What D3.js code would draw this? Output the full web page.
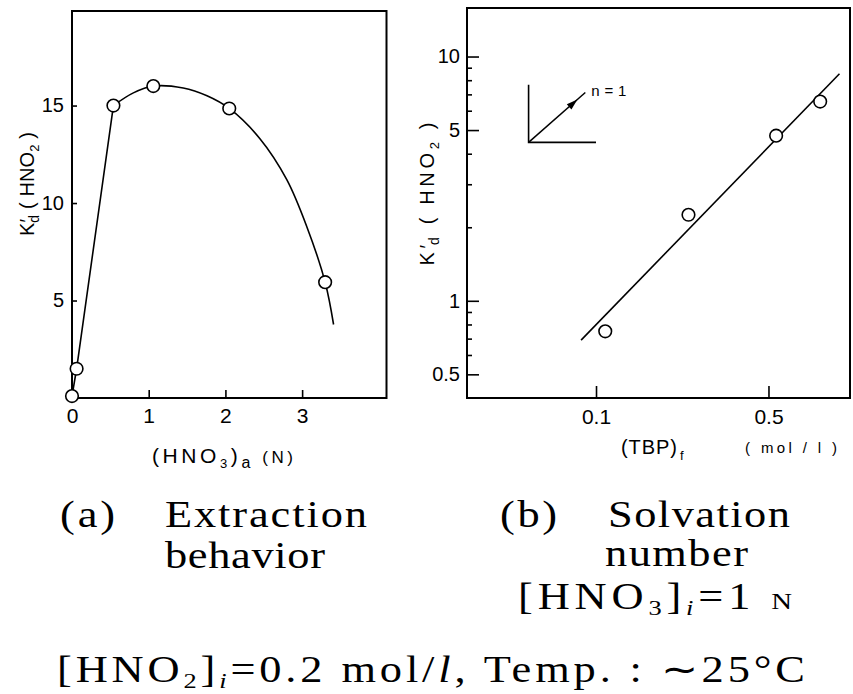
<!DOCTYPE html>
<html>
<head>
<meta charset="utf-8">
<script src="https://cdn.jsdelivr.net/npm/d3@7"></script>
<style>
  html, body { margin: 0; padding: 0; background: #fff; }
  svg { display: block; }
</style>
</head>
<body>
<svg id="chart" width="853" height="694"></svg>
<script>
// ---------- data: panel (a) extraction behaviour ----------
const hno3A = [0, 0.06, 0.54, 1.06, 2.05, 3.30];
const kdA = [0.1, 1.5, 15.0, 16.0, 14.85, 5.94];
// straight segments at low acidity
const segAx = [0, 0.06, 0.54];
const segAy = [0.1, 1.5, 15.0];
// smooth drawn curve
const curveAx = [0.54, 0.80, 1.06, 1.45, 1.76, 2.05, 2.45, 2.80, 3.06, 3.30, 3.41];
const curveAy = [15.0, 15.65, 16.0, 15.9, 15.5, 14.85, 13.3, 11.2, 8.8, 5.94, 3.77];
const xTicksA = [0, 1, 2, 3];
const xTickLabelsA = ["0", "1", "2", "3"];
const yTicksA = [5, 10, 15];
const yTickLabelsA = ["5", "10", "15"];

// ---------- data: panel (b) solvation number ----------
const tbpB = [0.109, 0.237, 0.537, 0.81];
const kdB = [0.75, 2.25, 4.74, 6.54];
const fitBx = [0.087, 0.97];
const fitBy = [0.69, 8.5];
const xTicksB = [0.1, 0.5];
const xTickLabelsB = ["0.1", "0.5"];
const yTicksB = [0.5, 1, 5, 10];
const yTickLabelsB = ["0.5", "1", "5", "10"];
const yMinorB = [0.6, 0.7, 0.8, 0.9, 2, 3, 4, 6, 7, 8, 9];
// slope-1 key (data coordinates)
const keyCorner = [0.0533, 4.45];
const keyTop = 7.66;
const keyRight = 0.1;
const keyArrow = [0.0905, 7.12];
const keyLabel = "n = 1";

const SANS = "'Liberation Sans', Arial, sans-serif";
const SERIF = "'Liberation Serif', 'Times New Roman', serif";

const svg = d3.select("#chart");

// ---------- scales ----------
const xA = d3.scaleLinear().domain([0, 4.1]).range([72, 386.5]);
const yA = d3.scaleLinear().domain([0, 19.85]).range([398, 11]);
const xB = d3.scaleLog().domain([0.03, 1.07]).range([467, 850]);
const yB = d3.scaleLog().domain([0.4, 15.8]).range([398, 8]);

function styleAxis(g, size) {
  g.select(".domain").remove();
  g.selectAll("line").attr("stroke", "#000").attr("stroke-width", 1.6);
  g.selectAll("text").attr("font-family", SANS).attr("font-size", size).attr("fill", "#000");
}

// ---------- panel (a) ----------
const gA = svg.append("g");
gA.append("g").attr("transform", `translate(0,${yA(0)})`)
  .call(d3.axisBottom(xA).tickValues(xTicksA).tickFormat((d, i) => xTickLabelsA[i]).tickSize(-8).tickPadding(10))
  .call(g => styleAxis(g, 21));
gA.append("g").attr("transform", `translate(${xA(0)},0)`)
  .call(d3.axisLeft(yA).tickValues(yTicksA).tickFormat((d, i) => yTickLabelsA[i]).tickSize(-5).tickPadding(8))
  .call(g => styleAxis(g, 20));
gA.append("rect")
  .attr("x", xA.range()[0]).attr("y", yA.range()[1])
  .attr("width", xA.range()[1] - xA.range()[0]).attr("height", yA.range()[0] - yA.range()[1])
  .attr("fill", "none").attr("stroke", "#000").attr("stroke-width", 2);

gA.append("path")
  .attr("d", d3.line().x((d, i) => xA(segAx[i])).y(d => yA(d))(segAy))
  .attr("fill", "none").attr("stroke", "#000").attr("stroke-width", 1.6);
gA.append("path")
  .attr("d", d3.line().curve(d3.curveCatmullRom).x((d, i) => xA(curveAx[i])).y(d => yA(d))(curveAy))
  .attr("fill", "none").attr("stroke", "#000").attr("stroke-width", 1.6);
gA.selectAll("circle.pt").data(kdA).join("circle")
  .attr("cx", (d, i) => xA(hno3A[i])).attr("cy", d => yA(d)).attr("r", 6.3)
  .attr("fill", "#fff").attr("stroke", "#000").attr("stroke-width", 1.6);

// axis titles (a)
const tA = gA.append("text").attr("font-family", SANS).attr("font-size", 21)
  .attr("x", 152).attr("y", 463).attr("textLength", 141).attr("lengthAdjust", "spacing");
tA.append("tspan").text("(HNO");
tA.append("tspan").attr("font-size", 13).attr("dy", 5).text("3");
tA.append("tspan").attr("dy", -5).text(")");
tA.append("tspan").attr("font-size", 16).attr("dy", 5).text("a");
tA.append("tspan").attr("font-size", 17).attr("dy", -5).text(" (N)");

function kdLabel(g, cx, cy, len) {
  const t = g.append("text").attr("font-family", SANS).attr("font-size", 20)
    .attr("transform", `translate(${cx},${cy}) rotate(-90)`).attr("x", -len / 2).attr("y", 7)
    .attr("textLength", len).attr("lengthAdjust", "spacing");
  t.append("tspan").text("K′");
  t.append("tspan").attr("font-size", 14).attr("dy", 5).attr("dx", -4).text("d");
  t.append("tspan").attr("dy", -5).text(" ( HNO");
  t.append("tspan").attr("font-size", 13).attr("dy", 5).text("2");
  t.append("tspan").attr("dy", -5).text(" )");
}
kdLabel(gA, 27, 184, 104);

// ---------- panel (b) ----------
const gB = svg.append("g");
gB.append("g").attr("transform", `translate(0,${yB.range()[0]})`)
  .call(d3.axisBottom(xB).tickValues(xTicksB).tickFormat((d, i) => xTickLabelsB[i]).tickSize(-12).tickPadding(11))
  .call(g => styleAxis(g, 21));
gB.append("g").attr("transform", `translate(${xB.range()[0]},0)`)
  .call(d3.axisLeft(yB).tickValues(yTicksB).tickFormat((d, i) => yTickLabelsB[i]).tickSize(-12).tickPadding(7))
  .call(g => styleAxis(g, 20));
gB.append("g").attr("transform", `translate(${xB.range()[0]},0)`)
  .call(d3.axisLeft(yB).tickValues(yMinorB).tickFormat("").tickSize(-5))
  .call(g => styleAxis(g, 18));
gB.append("rect")
  .attr("x", xB.range()[0]).attr("y", yB.range()[1])
  .attr("width", xB.range()[1] - xB.range()[0]).attr("height", yB.range()[0] - yB.range()[1])
  .attr("fill", "none").attr("stroke", "#000").attr("stroke-width", 2);

gB.append("path")
  .attr("d", d3.line().x((d, i) => xB(fitBx[i])).y(d => yB(d))(fitBy))
  .attr("fill", "none").attr("stroke", "#000").attr("stroke-width", 1.6);
gB.selectAll("circle.pt").data(kdB).join("circle")
  .attr("cx", (d, i) => xB(tbpB[i])).attr("cy", d => yB(d)).attr("r", 6.3)
  .attr("fill", "#fff").attr("stroke", "#000").attr("stroke-width", 1.6);

// slope key
const kc = [xB(keyCorner[0]), yB(keyCorner[1])];
const ka = [xB(keyArrow[0]), yB(keyArrow[1])];
gB.append("path")
  .attr("d", d3.line()([[xB(keyCorner[0]), yB(keyTop)], kc, [xB(keyRight), kc[1]]]))
  .attr("fill", "none").attr("stroke", "#000").attr("stroke-width", 1.6);
gB.append("path").attr("d", d3.line()([kc, ka]))
  .attr("stroke", "#000").attr("stroke-width", 1.5);
{
  const ang = Math.atan2(ka[1] - kc[1], ka[0] - kc[0]);
  const tip = [kc[0] + (ka[0] - kc[0]) * 0.86, kc[1] + (ka[1] - kc[1]) * 0.86];
  const L = 11, W = 3.5;
  const bx = tip[0] - L * Math.cos(ang), by = tip[1] - L * Math.sin(ang);
  const px = -Math.sin(ang) * W, py = Math.cos(ang) * W;
  gB.append("path")
    .attr("d", d3.line()([tip, [bx + px, by + py], [bx - px, by - py]]) + "Z")
    .attr("fill", "#000");
}
gB.append("text").attr("font-family", SANS).attr("font-size", 15)
  .attr("x", ka[0] + 6).attr("y", ka[1] + 3).attr("textLength", 35).attr("lengthAdjust", "spacing").text(keyLabel);

// axis titles (b)
gB.append("text").attr("font-family", SANS).attr("font-size", 20)
  .attr("x", 621).attr("y", 454).attr("textLength", 56).attr("lengthAdjust", "spacing").text("(TBP)");
gB.append("text").attr("font-family", SANS).attr("font-size", 13)
  .attr("x", 680).attr("y", 460).text("f");
gB.append("text").attr("font-family", SANS).attr("font-size", 15)
  .attr("x", 745).attr("y", 453).attr("textLength", 92).attr("lengthAdjust", "spacing").text("( mol / l )");
kdLabel(gB, 427, 194, 143);

// ---------- captions ----------
const SX = 1.2;
const cap = svg.append("g").attr("font-family", SERIF).attr("font-size", 37).attr("fill", "#000");
function capText(x, y, len) {
  return cap.append("text").attr("transform", `translate(${x},${y}) scale(${SX},1)`)
    .attr("textLength", len / SX).attr("lengthAdjust", "spacing");
}
capText(60, 527, 55).text("(a)");
capText(165, 527, 202).text("Extraction");
capText(165, 568, 160).text("behavior");
capText(500, 527, 57).text("(b)");
capText(608, 527, 182).text("Solvation");
capText(605, 566, 143).text("number");
{
  const t = capText(518, 609, 274);
  t.append("tspan").text("[HNO");
  t.append("tspan").attr("font-size", 22).attr("dy", 6).text("3");
  t.append("tspan").attr("dy", -6).text("]");
  t.append("tspan").attr("font-size", 22).attr("font-style", "italic").attr("dy", 6).text("i");
  t.append("tspan").attr("dy", -6).text("=1 ");
  t.append("tspan").attr("font-size", 24).text("N");
}
{
  const t = capText(57, 682, 748);
  t.append("tspan").text("[HNO");
  t.append("tspan").attr("font-size", 22).attr("dy", 6).text("2");
  t.append("tspan").attr("dy", -6).text("]");
  t.append("tspan").attr("font-size", 22).attr("font-style", "italic").attr("dy", 6).text("i");
  t.append("tspan").attr("dy", -6).text("=0.2 mol/");
  t.append("tspan").attr("font-style", "italic").text("l");
  t.append("tspan").text(",  Temp. : ∼25°C");
}
</script>
</body>
</html>
